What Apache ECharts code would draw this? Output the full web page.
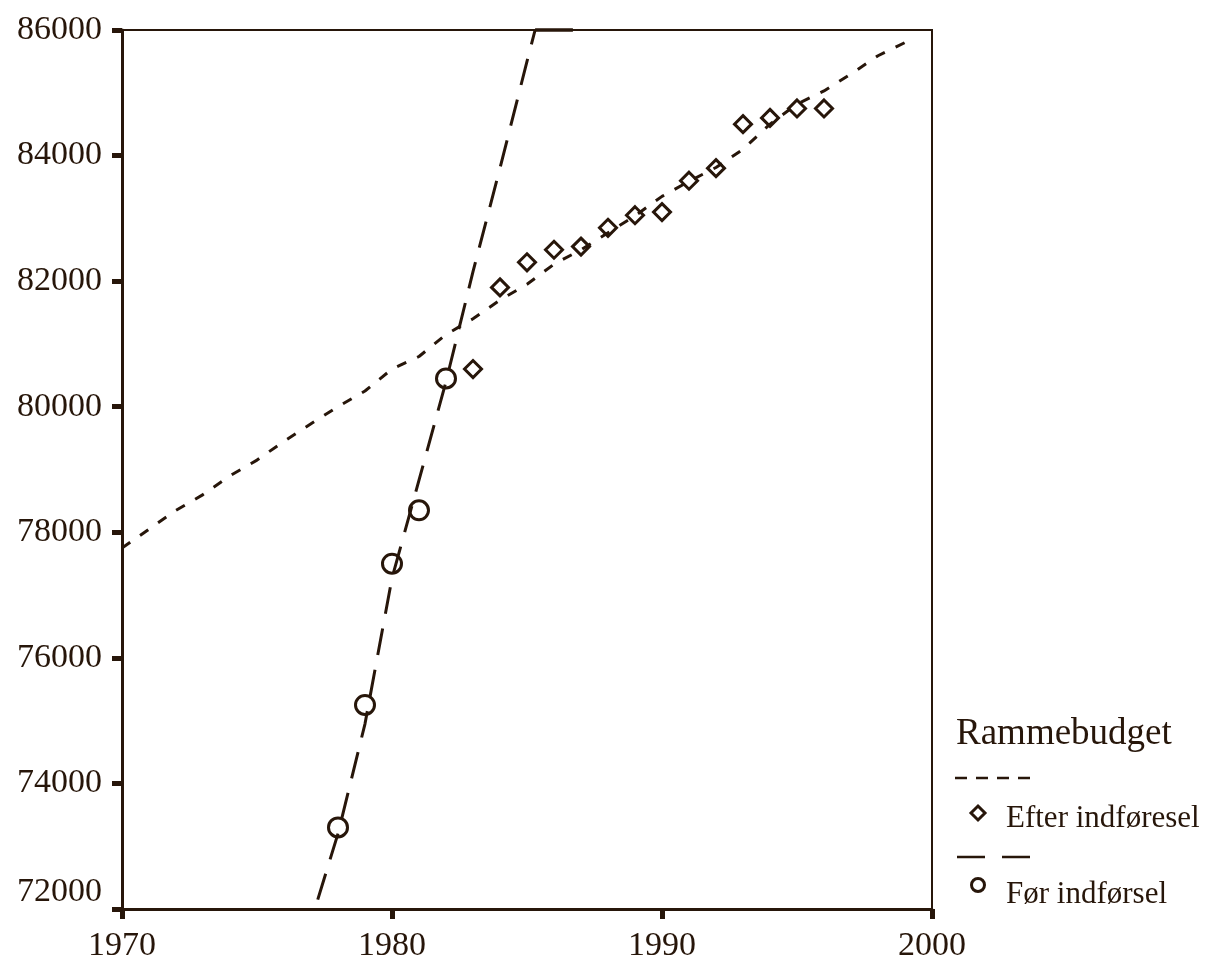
<!DOCTYPE html>
<html>
<head>
<meta charset="utf-8">
<script src="https://cdn.jsdelivr.net/npm/echarts@6/dist/echarts.min.js"></script>
<style>
html,body{margin:0;padding:0;background:#fff;}
#chart{width:1211px;height:963px;}
</style>
</head>
<body>
<div id="chart"></div>
<script>
// ---- data ----
var xTicks = [1970, 1980, 1990, 2000];
var yTicks = [72000, 74000, 76000, 78000, 80000, 82000, 84000, 86000];

var efterYears  = [1983, 1984, 1985, 1986, 1987, 1988, 1989, 1990, 1991, 1992, 1993, 1994, 1995, 1996];
var efterValues = [80600, 81900, 82300, 82500, 82550, 82850, 83050, 83100, 83600, 83800, 84500, 84600, 84750, 84750];

var efterTrendYears  = [1970, 1971, 1972, 1973, 1974, 1975, 1976, 1977, 1978, 1979, 1980, 1981, 1982, 1983, 1984, 1985, 1986, 1987, 1988, 1989, 1990, 1991, 1992, 1993, 1994, 1995, 1996, 1997, 1998, 1999];
var efterTrendValues = [77750, 78050, 78350, 78600, 78900, 79150, 79450, 79730, 80000, 80250, 80600, 80800, 81150, 81400, 81700, 81950, 82270, 82500, 82770, 83040, 83350, 83590, 83810, 84100, 84500, 84820, 85030, 85300, 85590, 85800];

var forYears  = [1978, 1979, 1980, 1981, 1982];
var forValues = [73300, 75250, 77500, 78350, 80450];

var forTrendYears  = [1977.25, 1978, 1979, 1980, 1981, 1982, 1983, 1984, 1985, 1985.3];
var forTrendValues = [72150, 73200, 74950, 77270, 78830, 80400, 82150, 83800, 85500, 86000];
// part of the trend that runs along the top edge of the plot
var forTopYears  = [1985.3, 1986.7];
var forTopValues = [86000, 86000];

var legendTitle = 'Rammebudget';
var seriesNames = ['Efter indføresel', 'Før indførsel'];

// ---- helpers ----
function pairs(xs, ys) { return xs.map(function (x, i) { return [x, ys[i]]; }); }

var ink = '#27160a';
var font = 'Liberation Serif';

var chart = echarts.init(document.getElementById('chart'), null, {renderer: 'canvas'});

var option = {
  backgroundColor: '#ffffff',
  animation: false,
  grid: {
    left: 122, right: 279, top: 30, bottom: 52,
    show: true, borderColor: ink, borderWidth: 2, backgroundColor: 'transparent'
  },
  xAxis: {
    type: 'value', min: xTicks[0], max: xTicks[xTicks.length - 1], interval: 10,
    axisLine: {lineStyle: {color: ink, width: 3}},
    axisTick: {show: true, inside: false, length: 10, lineStyle: {color: ink, width: 5}},
    axisLabel: {color: ink, fontFamily: font, fontSize: 34, margin: 20,
      formatter: function (v) { return String(v); }},
    splitLine: {show: false}
  },
  yAxis: {
    type: 'value', min: yTicks[0], max: yTicks[yTicks.length - 1], interval: 2000,
    axisLine: {show: true, lineStyle: {color: ink, width: 3}},
    axisTick: {show: true, inside: false, length: 10, lineStyle: {color: ink, width: 5}},
    axisLabel: {color: ink, fontFamily: font, fontSize: 34, margin: 20,
      verticalAlignMinLabel: 'bottom',
      formatter: function (v) { return String(v); }},
    splitLine: {show: false}
  },
  series: [
    {
      name: seriesNames[0] + ' trend', type: 'line', data: pairs(efterTrendYears, efterTrendValues),
      showSymbol: false, symbol: 'none', smooth: false,
      lineStyle: {color: ink, width: 3, type: [10, 12]}, z: 2
    },
    {
      name: seriesNames[1] + ' trend', type: 'line', data: pairs(forTrendYears, forTrendValues),
      showSymbol: false, symbol: 'none', smooth: false, clip: true,
      lineStyle: {color: ink, width: 3, type: [27, 15]}, z: 2
    },
    {
      name: seriesNames[1] + ' trend top', type: 'line', data: pairs(forTopYears, forTopValues),
      showSymbol: false, symbol: 'none', clip: false,
      lineStyle: {color: ink, width: 3.5}, z: 2
    },
    {
      name: seriesNames[0], type: 'scatter', data: pairs(efterYears, efterValues),
      symbol: 'diamond', symbolSize: [17, 17],
      itemStyle: {color: 'rgba(255,255,255,0)', borderColor: ink, borderWidth: 3, opacity: 1}, z: 3
    },
    {
      name: seriesNames[1], type: 'scatter', data: pairs(forYears, forValues),
      symbol: 'circle', symbolSize: 19,
      itemStyle: {color: 'rgba(255,255,255,0)', borderColor: ink, borderWidth: 3, opacity: 1}, z: 3
    }
  ],
  graphic: [
    {type: 'text', left: 956, top: 716, style: {text: legendTitle, fill: ink, font: '37px "Liberation Serif"'}},
    {type: 'line', shape: {x1: 955, y1: 778, x2: 1030, y2: 778}, style: {stroke: ink, lineWidth: 2.5, lineDash: [12, 9]}},
    {type: 'polygon', shape: {points: [[978, 806], [985, 813], [978, 820], [971, 813]]}, style: {fill: 'none', stroke: ink, lineWidth: 3}},
    {type: 'text', left: 1006, top: 803, style: {text: seriesNames[0], fill: ink, font: '31px "Liberation Serif"'}},
    {type: 'line', shape: {x1: 957, y1: 857, x2: 1030, y2: 857}, style: {stroke: ink, lineWidth: 2.5, lineDash: [28, 17]}},
    {type: 'circle', shape: {cx: 978, cy: 885, r: 6.5}, style: {fill: 'none', stroke: ink, lineWidth: 3}},
    {type: 'text', left: 1006, top: 879, style: {text: seriesNames[1], fill: ink, font: '31px "Liberation Serif"'}}
  ]
};
chart.setOption(option);
</script>
</body>
</html>
